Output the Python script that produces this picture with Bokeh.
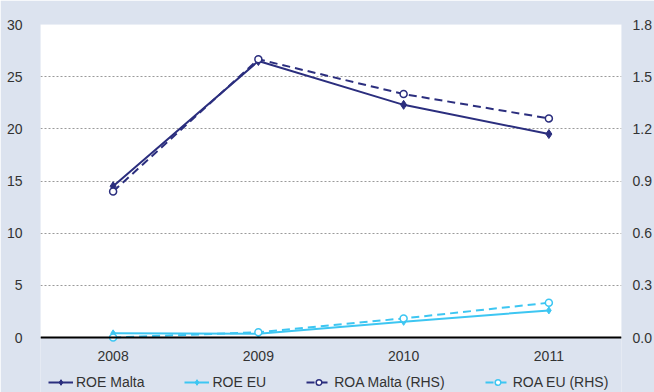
from bokeh.plotting import figure
from bokeh.models import (FactorRange, Range1d, LinearAxis, FixedTicker,
                          PrintfTickFormatter, Legend, LegendItem, BoxAnnotation)
from bokeh.embed import file_html
from bokeh.resources import INLINE

years = ["2008", "2009", "2010", "2011"]
roe_malta = [14.5, 26.5, 22.3, 19.5]
roe_eu = [0.4, 0.35, 1.5, 2.6]
roa_malta = [0.84, 1.60, 1.40, 1.26]
roa_eu = [0.0, 0.03, 0.11, 0.20]
left_ticks = [0, 5, 10, 15, 20, 25, 30]
right_ticks = [0.0, 0.3, 0.6, 0.9, 1.2, 1.5, 1.8]
LEFT_MAX = 30
RIGHT_MAX = 1.8
LEFT_BOTTOM = -5.27  # room below the zero line for year labels and legend

NAVY = "#2B2E7E"
LBLUE = "#3DC6F2"
BG = "#DCE3EF"
FONT = "Liberation Sans"
TXT = "#333333"
FS = "14px"

p = figure(x_range=FactorRange(*years), y_range=Range1d(LEFT_BOTTOM, LEFT_MAX),
           width=654, height=392, output_backend="svg", toolbar_location=None,
           min_border_left=40, min_border_right=32, min_border_top=24,
           min_border_bottom=0)
p.extra_y_ranges = {"rhs": Range1d(LEFT_BOTTOM * RIGHT_MAX / LEFT_MAX, RIGHT_MAX)}

p.border_fill_color = BG
p.background_fill_color = BG
p.outline_line_color = None

# white plotting area from 0 to 30
p.add_layout(BoxAnnotation(bottom=0, top=LEFT_MAX, fill_color="white", fill_alpha=1,
                           line_color=None, level="image"))

p.xgrid.grid_line_color = None
p.ygrid.grid_line_color = "#9a9a9a"
p.ygrid.grid_line_dash = "2 2"
p.ygrid.grid_line_width = 1
p.ygrid.ticker = FixedTicker(ticks=left_ticks)

ax = p.xaxis[0]
ax.fixed_location = 0
ax.axis_line_color = "black"
ax.axis_line_width = 2
ax.major_tick_line_color = None
ax.minor_tick_line_color = None
ax.major_label_text_font = FONT
ax.major_label_text_font_size = FS
ax.major_label_text_color = TXT
ax.major_label_standoff = 7

ay = p.yaxis[0]
ay.ticker = FixedTicker(ticks=left_ticks)
ay.axis_line_color = None
ay.major_tick_line_color = None
ay.minor_tick_line_color = None
ay.major_label_text_font = FONT
ay.major_label_text_font_size = FS
ay.major_label_text_color = TXT
ay.major_label_standoff = 12

ry = LinearAxis(y_range_name="rhs", ticker=FixedTicker(ticks=right_ticks),
                formatter=PrintfTickFormatter(format="%.1f"))
ry.axis_line_color = None
ry.major_tick_line_color = None
ry.minor_tick_line_color = None
ry.major_label_text_font = FONT
ry.major_label_text_font_size = FS
ry.major_label_text_color = TXT
ry.major_label_standoff = 5
p.add_layout(ry, "right")

l1 = p.line(years, roe_malta, line_color=NAVY, line_width=2)
s1 = p.scatter(years, roe_malta, marker="diamond", size=9, fill_color=NAVY, line_color=NAVY)
l2 = p.line(years, roe_eu, line_color=LBLUE, line_width=2)
s2 = p.scatter(years, roe_eu, marker="diamond", size=7, fill_color=LBLUE, line_color=LBLUE)
l3 = p.line(years, roa_malta, line_color=NAVY, line_width=2, line_dash="8 5", y_range_name="rhs")
s3 = p.scatter(years, roa_malta, marker="circle", size=7, fill_color="white", line_color=NAVY,
               line_width=1.5, y_range_name="rhs")
l4 = p.line(years, roa_eu, line_color=LBLUE, line_width=2, line_dash="8 5", y_range_name="rhs")
s4 = p.scatter(years, roa_eu, marker="circle", size=7, fill_color="white", line_color=LBLUE,
               line_width=1.5, y_range_name="rhs")

legend = Legend(items=[
    LegendItem(label="ROE Malta", renderers=[l1, s1]),
    LegendItem(label="ROE EU", renderers=[l2, s2]),
    LegendItem(label="ROA Malta (RHS)", renderers=[l3, s3]),
    LegendItem(label="ROA EU (RHS)", renderers=[l4, s4]),
], orientation="horizontal", location=(8, 2))
legend.background_fill_alpha = 0
legend.border_line_color = None
legend.label_text_font = FONT
legend.label_text_font_size = FS
legend.label_text_color = TXT
legend.glyph_width = 25
legend.glyph_height = 14
legend.label_height = 14
legend.label_standoff = 3
legend.spacing = 40
legend.padding = 0
legend.margin = 0
p.add_layout(legend, "center")

open("out.html", "w").write(file_html(p, INLINE))
